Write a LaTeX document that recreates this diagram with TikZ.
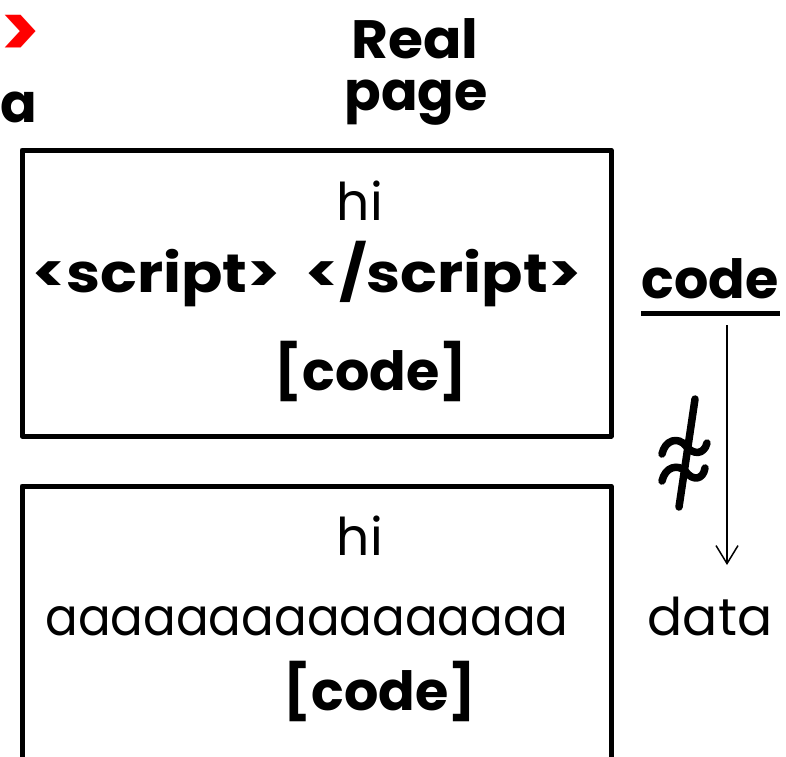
\documentclass[tikz,border=0pt]{standalone}
\usepackage{fontspec}
\setmainfont{Poppins}
\usetikzlibrary{arrows.meta}
\begin{document}
\begin{tikzpicture}[x=1pt,y=-1pt,
  frame/.style={draw, line width=5pt, line join=round},
  boldtxt/.style={font=\fontsize{54}{54}\selectfont\bfseries, inner sep=0pt, anchor=base},
  regtxt/.style={font=\fontsize{52}{52}\selectfont, inner sep=0pt, anchor=base},
  link/.style={line width=1.5pt, -{Straight Barb[length=18pt,width=22pt,line width=1.5pt]}},
  glyph/.style={line width=7.5pt, line cap=round, line join=round}]
\useasboundingbox (0,0) rectangle (786,756);

% heading
\node[font=\fontsize{74}{74}\selectfont\bfseries, text=red, inner sep=0pt, anchor=west] (mark) at (0.5,36) {>};
\node[boldtxt, anchor=base west] (lbl) at (0,122) {a};
\node[boldtxt] (real) at (415,58) {\scalebox{1.05}[1]{Real}};
\node[boldtxt] (page) at (416,110) {page};

% upper page
\draw[frame] (22,150) rectangle (611,436);
\node[regtxt] (hi1) at (360,220) {hi};
\node[boldtxt] (script) at (307,292) {\scalebox{1.13}[1]{<script>\hspace{22pt}</script>}};
\node[boldtxt] (code1) at (371,390) {[code]};

% lower page
\draw[frame] (22,486) rectangle (611,760);
\node[regtxt] (hi2) at (360,555) {hi};
\node[regtxt] (aaa) at (307,635) {\scalebox{0.93}[1]{aaaaaaaaaaaaaaaa}};
\node[boldtxt] (code2) at (380,710) {[code]};

% code -> data, marked "not approximately"
\node[boldtxt] (code) at (710,298) {code};
\draw[line width=5pt] (641,313) -- (780,313);
\node[regtxt] (data) at (710,635) {data};
\coordinate (arrtop) at (727,325);
\coordinate (arrbot) at (727,565);
\draw[link] (arrtop) -- (arrbot);
\draw[glyph] (695,399) -- (679,507);
\draw[glyph] (662,454) .. controls (665,440) and (678,436) .. (686,446)
  .. controls (693,455) and (704,455) .. (707,443);
\draw[glyph] (662,481) .. controls (665,467) and (678,463) .. (686,472)
  .. controls (693,481) and (703,480) .. (705,468);
\end{tikzpicture}
\end{document}
